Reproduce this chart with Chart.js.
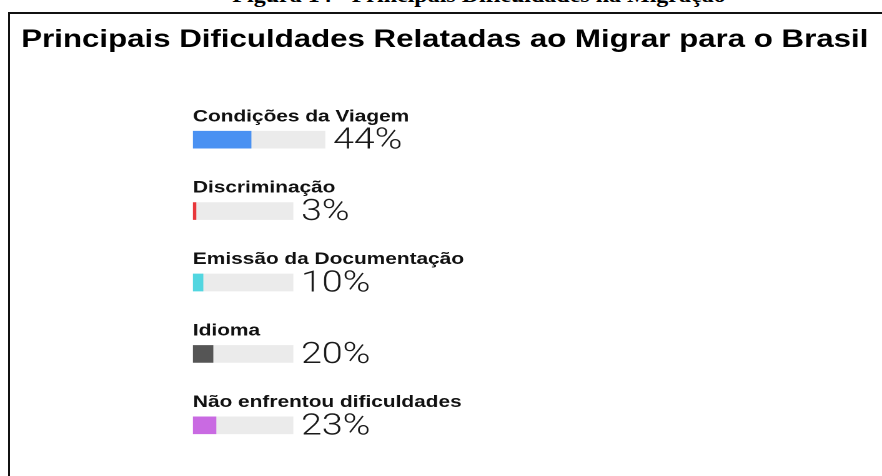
<!DOCTYPE html>
<html lang="pt-BR">
<head>
<meta charset="utf-8">
<title>Principais Dificuldades Relatadas ao Migrar para o Brasil</title>
<script src="https://cdn.jsdelivr.net/npm/chart.js"></script>
<style>
    html, body {
        margin: 0;
        padding: 0;
        width: 882px;
        height: 476px;
        overflow: hidden;
        background: #fff;
    }
    #caption {
        position: absolute;
        left: 479px;
        top: -15px;
        font: bold 20px/20px "Liberation Serif", "Times New Roman", serif;
        color: #000;
        white-space: nowrap;
        transform: translateX(-50%) scaleX(1.2);
    }
    #frame {
        position: absolute;
        left: 8px;
        top: 12px;
        width: 900px;
        height: 500px;
        border: 2px solid #111;
    }
    /* o gráfico original aparece esticado na horizontal */
    #wrap {
        position: absolute;
        left: 0;
        top: 0;
        width: 706px;
        height: 476px;
        transform: scaleX(1.2493);
        transform-origin: 0 0;
    }
</style>
</head>
<body>
<div id="caption">Figura 14 - Principais Dificuldades na Migração</div>
<div id="frame"></div>
<div id="wrap"><canvas id="chart"></canvas></div>

<script>
// Dados
const categories = [
    'Condições da Viagem',
    'Discriminação',
    'Emissão da Documentação',
    'Idioma',
    'Não enfrentou dificuldades'
];
const percentages = [44, 3, 10, 20, 23];
const percentLabels = ['44%', '3%', '10%', '20%', '23%'];

// Estilo
const barColors = ['#4a91f2', '#e8373b', '#52d6e0', '#555555', '#c96ae2'];
const trackColor = '#ebebeb';
const trackScale = [1.32, 1, 1, 1, 1];   // a primeira trilha é mais longa

// Rótulos de percentual à direita de cada trilha
const percentLabelPlugin = {
    id: 'percentLabels',
    afterDatasetsDraw(chart) {
        const ctx = chart.ctx;
        const meta = chart.getDatasetMeta(1);
        ctx.save();
        ctx.font = '300 30px Roboto, "Liberation Sans", sans-serif';
        ctx.fillStyle = '#1a1a1a';
        ctx.textAlign = 'left';
        ctx.textBaseline = 'middle';
        meta.data.forEach((bar, i) => {
            ctx.fillText(percentLabels[i], bar.x + 6.5, bar.y + 1.5);
        });
        ctx.restore();
    }
};

new Chart(document.getElementById('chart'), {
    type: 'bar',
    data: {
        labels: categories,
        datasets: [
            {
                data: percentages.map((v, i) => v * trackScale[i]),
                backgroundColor: barColors,
                borderWidth: 0,
                barThickness: 17
            },
            {
                data: percentages.map((v, i) => (100 - v) * trackScale[i]),
                backgroundColor: trackColor,
                borderWidth: 0,
                barThickness: 17
            }
        ]
    },
    options: {
        indexAxis: 'y',
        responsive: true,
        maintainAspectRatio: false,
        animation: false,
        devicePixelRatio: 2,
        layout: {
            padding: { left: 17, right: 0, top: 0, bottom: 15 }
        },
        scales: {
            x: {
                stacked: true,
                display: false,
                min: 0,
                max: 689
            },
            y: {
                stacked: true,
                grid: { display: false, drawTicks: false },
                border: { display: false },
                ticks: {
                    mirror: true,
                    padding: 0,
                    labelOffset: -23,
                    color: '#111',
                    font: { family: '"Liberation Sans", Arial, sans-serif', size: 16.7, weight: 'bold' }
                },
                afterFit(scale) {
                    scale.width = 137.4;
                }
            }
        },
        plugins: {
            legend: { display: false },
            tooltip: { enabled: false },
            title: {
                display: true,
                text: 'Principais Dificuldades Relatadas ao Migrar para o Brasil',
                align: 'start',
                color: '#000',
                font: { family: '"Liberation Sans", Arial, sans-serif', size: 25, weight: 'bold', lineHeight: 1.2 },
                padding: { top: 25, bottom: 49 }
            }
        }
    },
    plugins: [percentLabelPlugin]
});
</script>
</body>
</html>
